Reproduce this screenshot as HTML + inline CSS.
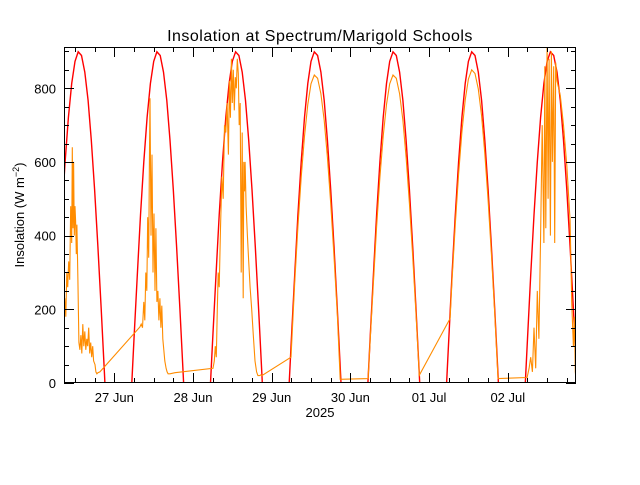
<!DOCTYPE html>
<html><head><meta charset="utf-8"><style>
html,body{margin:0;padding:0;background:#fff;}
svg text{font-family:"Liberation Sans",sans-serif;fill:#000;}
</style></head><body>
<svg id="chart" width="640" height="480" viewBox="0 0 640 480" xmlns="http://www.w3.org/2000/svg">
<rect width="640" height="480" fill="#fff"/>
<text x="320" y="41" text-anchor="middle" font-size="16" letter-spacing="0.5">Insolation at Spectrum/Marigold Schools</text>
<text transform="translate(24,215) rotate(-90)" text-anchor="middle" font-size="13">Insolation (W m<tspan dy="-5" font-size="9">−2</tspan><tspan dy="5">)</tspan></text>
<text x="320" y="417" text-anchor="middle" font-size="13">2025</text>
<defs><clipPath id="pc"><rect x="64" y="47" width="512" height="336"/></clipPath></defs>
<g id="series" clip-path="url(#pc)"></g>
<g id="axes"></g>
</svg>
<script>
// time axis: hours since 26 Jun 2025 00:00
const xTickLabels = ["27 Jun","28 Jun","29 Jun","30 Jun","01 Jul","02 Jul"];
const xTickHours = [24,48,72,96,120,144];
const yTickValues = [0,200,400,600,800];
const xDomain = [8.66,164.8];
const yDomain = [0,912];
// clear-sky model: hourly profile of one day (hour of day, W m^-2)
const clearHours = [0,5.33,6,7,8,9,10,11,12,13,14,15,16,17,18,19,20,21,21.13,24];
const clearValues = [-60,0,120,293,456,600,721,813,873,899,889,844,767,659,525,370,201,23,0,-60];
const dayOffsets = [0,24,48,72,96,120,144];
// measured insolation (hours, W m^-2)
const obsTimes = [8.66,8.9,9.2,9.5,9.8,10.1,10.4,10.7,11.0,11.2,11.4,11.6,11.8,12.0,12.2,12.4,12.6,12.9,13.2,13.5,13.8,14.1,14.4,14.7,15.0,15.3,15.6,15.9,16.2,16.5,16.8,17.1,17.4,17.7,18.1,18.4,18.7,19.0,19.6,
31.8,32.2,32.6,33.0,33.3,33.6,33.9,34.2,34.5,34.7,34.9,35.2,35.5,35.8,36.1,36.4,36.7,37.0,37.3,37.6,37.9,38.2,38.5,38.8,39.1,39.4,39.8,40.1,40.4,41.0,42.5,
54.1,54.5,54.8,55.1,55.4,55.7,56.0,56.4,56.8,57.2,57.6,58.0,58.4,58.8,59.1,59.4,59.7,60.0,60.3,60.6,60.9,61.2,61.5,61.8,62.1,62.4,62.7,63.0,63.3,63.5,63.7,63.9,64.2,64.6,65.0,65.4,65.9,66.4,66.9,67.4,67.8,68.3,68.7,69.0,
77.9,79,80,81,82,83,84,85,86,87,88,89,90,91,92,92.9,101.4,
102,103,104,105,106,107,108,109,110,111,112,113,114,115,116,117,
126.4,127,128,129,130,131,132,133,134,135,136,137,138,139,140,141,149.9,
150.5,151,151.5,152,152.5,153,153.5,154,154.5,155,155.3,155.6,156,156.3,156.6,157,157.3,157.6,158,158.3,158.6,159,160,161,162,163,163.5,164,164.3,164.6,164.8];
const obsValues = [150,230,180,300,260,330,280,480,380,640,420,600,400,480,440,350,430,280,110,90,130,80,160,100,140,90,120,100,150,80,110,70,100,60,50,30,25,28,30,
152,160,150,220,170,300,250,450,340,600,773,400,620,300,460,250,420,220,250,170,230,150,210,120,90,60,40,30,25,25,28,
40,60,100,70,200,300,260,420,560,500,700,680,760,620,820,720,880,760,850,740,830,800,880,840,700,760,300,680,230,600,520,600,480,400,330,260,200,130,60,30,20,20,22,20,
70,272,424,558,670,756,812,836,827,785,713,613,488,344,187,10,12,
112,272,424,558,670,756,812,836,827,785,713,613,488,344,187,21,
175,277,431,567,681,768,825,850,840,798,725,623,496,350,190,12,15,
40,70,30,150,40,250,120,400,700,380,860,420,912,500,880,400,900,600,860,380,870,820,780,700,590,440,220,100,180,30,10];

const P = {l:64,r:576,t:47,b:383};
const xs = t => P.l + (t - xDomain[0]) / (xDomain[1] - xDomain[0]) * (P.r - P.l);
const ys = v => P.b - (v - yDomain[0]) / (yDomain[1] - yDomain[0]) * (P.b - P.t);
const NS = "http://www.w3.org/2000/svg";
const series = document.getElementById("series");
const axes = document.getElementById("axes");

let redPts = [];
dayOffsets.forEach(d => clearHours.forEach((h,i) => redPts.push(xs(d+h).toFixed(1)+","+ys(clearValues[i]).toFixed(1))));
const red = document.createElementNS(NS,"polyline");


red.setAttribute("points", redPts.join(" "));
red.setAttribute("fill","none"); red.setAttribute("stroke","#ff0000"); red.setAttribute("stroke-width","1.4");
series.appendChild(red);

const obs = document.createElementNS(NS,"polyline");


obs.setAttribute("points", obsTimes.map((t,i)=>xs(t).toFixed(1)+","+ys(obsValues[i]).toFixed(1)).join(" "));
obs.setAttribute("fill","none"); obs.setAttribute("stroke","#ff8c00"); obs.setAttribute("stroke-width","1.1");
series.appendChild(obs);

function line(x1,y1,x2,y2){
  const l = document.createElementNS(NS,"line");
  
  
  l.setAttribute("x1",x1); l.setAttribute("y1",y1); l.setAttribute("x2",x2); l.setAttribute("y2",y2);
  l.setAttribute("stroke","#000"); l.setAttribute("stroke-width","1");
  axes.appendChild(l);
}
const frame = document.createElementNS(NS,"rect");


frame.setAttribute("x",P.l+0.5); frame.setAttribute("y",P.t+0.5);
frame.setAttribute("width",P.r-P.l-1); frame.setAttribute("height",P.b-P.t-1);
frame.setAttribute("fill","none"); frame.setAttribute("stroke","#000");
axes.appendChild(frame);

for (let v = 0; v <= yDomain[1]; v += 50) {
  const y = Math.round(ys(v)) + 0.5, len = v % 200 === 0 ? 10 : 5;
  line(P.l, y, P.l + len, y); line(P.r - len, y, P.r, y);
}
yTickValues.forEach(v => {
  const t = document.createElementNS(NS,"text");
  
  
  t.setAttribute("x", 56); t.setAttribute("y", ys(v) + 5);
  t.setAttribute("text-anchor","end"); t.setAttribute("font-size","13");
  t.textContent = v; axes.appendChild(t);
});
for (let h = 12; h < xDomain[1]; h += 6) {
  if (h < xDomain[0]) continue;
  const x = Math.round(xs(h)) + 0.5, len = h % 24 === 0 ? 10 : 5;
  line(x, P.b, x, P.b - len); line(x, P.t, x, P.t + len);
}
xTickHours.forEach((h,i) => {
  const t = document.createElementNS(NS,"text");
  
  
  t.setAttribute("x", xs(h)); t.setAttribute("y", 402);
  t.setAttribute("text-anchor","middle"); t.setAttribute("font-size","13");
  t.textContent = xTickLabels[i]; axes.appendChild(t);
});
</script>
</body></html>
